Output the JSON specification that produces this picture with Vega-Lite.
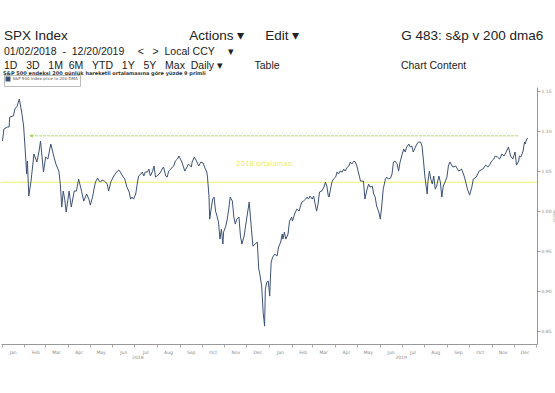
{
  "$schema": "https://vega.github.io/schema/vega-lite/v6.json",
  "background": "white",
  "padding": {"left": 0, "top": 29, "right": 0, "bottom": 0},
  "title": {
    "text": "SPX Index\u2003\u2003\u2003\u2003\u2003\u2003\u2003\u2003\u2003Actions ▾\u2003\u00a0\u00a0Edit ▾\u2003\u2003\u2003\u2003\u2003\u2003\u2003\u00a0\u00a0G 483: s&p v 200 dma6",
    "subtitle": [
      "01/02/2018\u00a0\u00a0-\u00a0\u00a012/20/2019\u2003\u00a0<\u00a0\u00a0\u00a0>\u00a0\u00a0Local CCY\u2003\u00a0▾",
      "\u00a0\u00a01D\u00a0\u00a0\u00a03D\u00a0\u00a0\u00a01M\u00a0\u00a06M\u00a0\u00a0\u00a0YTD\u00a0\u00a0\u00a01Y\u00a0\u00a0\u00a05Y\u00a0\u00a0\u00a0Max\u00a0\u00a0Daily ▾\u2003\u2003\u2003Table\u2003\u2003\u2003\u2003\u2003\u2003\u2003\u2003\u2003\u2003\u2003\u00a0\u00a0Chart Content"
    ],
    "anchor": "start",
    "frame": "group",
    "dx": 3,
    "font": "Liberation Sans",
    "fontSize": 13.5,
    "fontWeight": "normal",
    "color": "#222222",
    "subtitleFont": "Liberation Sans",
    "subtitleFontSize": 10.5,
    "subtitleColor": "#222222",
    "subtitlePadding": 4,
    "subtitleLineHeight": 14,
    "offset": 0
  },
  "datasets": {
    "spx": [
      {"d":"2018-01-02","v":1.0875},{"d":"2018-01-04","v":1.1025},{"d":"2018-01-09","v":1.105},{"d":"2018-01-11","v":1.105},{"d":"2018-01-12","v":1.1175},{"d":"2018-01-17","v":1.119},{"d":"2018-01-19","v":1.1275},{"d":"2018-01-22","v":1.131},{"d":"2018-01-25","v":1.14},{"d":"2018-01-27","v":1.13},{"d":"2018-01-29","v":1.119},{"d":"2018-01-31","v":1.105},
      {"d":"2018-02-03","v":1.0625},{"d":"2018-02-04","v":1.0463},{"d":"2018-02-05","v":1.0625},{"d":"2018-02-07","v":1.0188},{"d":"2018-02-10","v":1.0375},{"d":"2018-02-14","v":1.0713},{"d":"2018-02-18","v":1.0613},{"d":"2018-02-21","v":1.075},{"d":"2018-02-23","v":1.0875},{"d":"2018-02-27","v":1.0488},
      {"d":"2018-03-02","v":1.0675},{"d":"2018-03-05","v":1.065},{"d":"2018-03-09","v":1.0838},{"d":"2018-03-13","v":1.0688},{"d":"2018-03-16","v":1.0588},{"d":"2018-03-20","v":1.05},{"d":"2018-03-22","v":1.0338},{"d":"2018-03-24","v":1.005},{"d":"2018-03-26","v":1.025},{"d":"2018-03-28","v":1.015},{"d":"2018-03-30","v":0.9988},
      {"d":"2018-04-03","v":1.025},{"d":"2018-04-06","v":1.005},{"d":"2018-04-10","v":1.025},{"d":"2018-04-13","v":1.025},{"d":"2018-04-16","v":1.04},{"d":"2018-04-20","v":1.025},{"d":"2018-04-23","v":1.0125},{"d":"2018-04-27","v":1.0213},{"d":"2018-04-30","v":1.015},
      {"d":"2018-05-02","v":1.0075},{"d":"2018-05-05","v":1.0175},{"d":"2018-05-07","v":1.0275},{"d":"2018-05-09","v":1.0363},{"d":"2018-05-12","v":1.0413},{"d":"2018-05-14","v":1.0375},{"d":"2018-05-16","v":1.0363},{"d":"2018-05-18","v":1.0388},{"d":"2018-05-21","v":1.0375},{"d":"2018-05-23","v":1.0363},{"d":"2018-05-25","v":1.0338},{"d":"2018-05-27","v":1.025},{"d":"2018-05-30","v":1.0363},
      {"d":"2018-06-01","v":1.04},{"d":"2018-06-03","v":1.0438},{"d":"2018-06-08","v":1.05},{"d":"2018-06-10","v":1.0513},{"d":"2018-06-12","v":1.0488},{"d":"2018-06-15","v":1.0438},{"d":"2018-06-18","v":1.04},{"d":"2018-06-21","v":1.03},{"d":"2018-06-24","v":1.0238},{"d":"2018-06-26","v":1.015},{"d":"2018-06-28","v":1.0175},{"d":"2018-06-30","v":1.015},
      {"d":"2018-07-03","v":1.0213},{"d":"2018-07-05","v":1.0338},{"d":"2018-07-07","v":1.0438},{"d":"2018-07-10","v":1.0463},{"d":"2018-07-12","v":1.0488},{"d":"2018-07-14","v":1.0438},{"d":"2018-07-16","v":1.0488},{"d":"2018-07-19","v":1.0488},{"d":"2018-07-21","v":1.0525},{"d":"2018-07-23","v":1.0438},{"d":"2018-07-26","v":1.05},{"d":"2018-07-28","v":1.0563},{"d":"2018-07-30","v":1.0425},
      {"d":"2018-08-01","v":1.0438},{"d":"2018-08-04","v":1.0463},{"d":"2018-08-06","v":1.0488},{"d":"2018-08-08","v":1.0525},{"d":"2018-08-10","v":1.055},{"d":"2018-08-13","v":1.0438},{"d":"2018-08-15","v":1.0425},{"d":"2018-08-17","v":1.05},{"d":"2018-08-20","v":1.0525},{"d":"2018-08-22","v":1.055},{"d":"2018-08-24","v":1.0563},{"d":"2018-08-26","v":1.0625},{"d":"2018-08-29","v":1.065},{"d":"2018-08-31","v":1.0688},
      {"d":"2018-09-02","v":1.065},{"d":"2018-09-04","v":1.0613},{"d":"2018-09-08","v":1.05},{"d":"2018-09-11","v":1.055},{"d":"2018-09-13","v":1.0588},{"d":"2018-09-17","v":1.055},{"d":"2018-09-18","v":1.0613},{"d":"2018-09-21","v":1.0675},{"d":"2018-09-24","v":1.0625},{"d":"2018-09-27","v":1.0563},{"d":"2018-09-30","v":1.0613},
      {"d":"2018-10-03","v":1.06},{"d":"2018-10-05","v":1.055},{"d":"2018-10-08","v":1.0488},{"d":"2018-10-09","v":1.0425},{"d":"2018-10-11","v":1.0188},{"d":"2018-10-12","v":0.99},{"d":"2018-10-14","v":1.0025},{"d":"2018-10-16","v":1.015},{"d":"2018-10-18","v":1.0175},{"d":"2018-10-20","v":1.0},{"d":"2018-10-22","v":0.9938},{"d":"2018-10-24","v":0.9863},{"d":"2018-10-26","v":0.965},{"d":"2018-10-28","v":0.9775},{"d":"2018-10-30","v":0.9588},{"d":"2018-10-31","v":0.9738},
      {"d":"2018-11-03","v":0.9813},{"d":"2018-11-05","v":0.99},{"d":"2018-11-07","v":1.0025},{"d":"2018-11-09","v":1.0175},{"d":"2018-11-12","v":1.0125},{"d":"2018-11-14","v":0.9925},{"d":"2018-11-16","v":0.9838},{"d":"2018-11-18","v":0.99},{"d":"2018-11-21","v":0.9925},{"d":"2018-11-23","v":0.9688},{"d":"2018-11-25","v":0.9588},{"d":"2018-11-28","v":0.9688},{"d":"2018-11-30","v":0.9813},
      {"d":"2018-12-02","v":0.9938},{"d":"2018-12-05","v":1.0113},{"d":"2018-12-08","v":0.9775},{"d":"2018-12-10","v":0.9563},{"d":"2018-12-13","v":0.9588},{"d":"2018-12-16","v":0.9613},{"d":"2018-12-18","v":0.9275},{"d":"2018-12-19","v":0.9238},{"d":"2018-12-22","v":0.9063},{"d":"2018-12-24","v":0.8738},{"d":"2018-12-26","v":0.8563},{"d":"2018-12-27","v":0.9025},{"d":"2018-12-29","v":0.9113},{"d":"2018-12-31","v":0.9125},
      {"d":"2019-01-02","v":0.8938},{"d":"2019-01-03","v":0.9175},{"d":"2019-01-04","v":0.9363},{"d":"2019-01-06","v":0.9425},{"d":"2019-01-09","v":0.9463},{"d":"2019-01-12","v":0.9438},{"d":"2019-01-14","v":0.955},{"d":"2019-01-17","v":0.9613},{"d":"2019-01-19","v":0.9713},{"d":"2019-01-20","v":0.965},{"d":"2019-01-22","v":0.9738},{"d":"2019-01-24","v":0.965},{"d":"2019-01-27","v":0.9713},{"d":"2019-01-29","v":0.9875},
      {"d":"2019-02-01","v":0.9925},{"d":"2019-02-02","v":0.9875},{"d":"2019-02-05","v":0.9963},{"d":"2019-02-08","v":1.0025},{"d":"2019-02-11","v":1.0},{"d":"2019-02-13","v":1.0063},{"d":"2019-02-15","v":1.0113},{"d":"2019-02-17","v":1.0125},{"d":"2019-02-20","v":1.015},{"d":"2019-02-22","v":1.0175},{"d":"2019-02-24","v":1.015},{"d":"2019-02-26","v":1.0188},
      {"d":"2019-03-01","v":1.015},{"d":"2019-03-03","v":1.0188},{"d":"2019-03-05","v":1.0088},{"d":"2019-03-07","v":1.0},{"d":"2019-03-09","v":1.0088},{"d":"2019-03-11","v":1.0238},{"d":"2019-03-14","v":1.025},{"d":"2019-03-17","v":1.03},{"d":"2019-03-19","v":1.0363},{"d":"2019-03-21","v":1.0313},{"d":"2019-03-23","v":1.0188},{"d":"2019-03-24","v":1.0175},{"d":"2019-03-26","v":1.0275},{"d":"2019-03-28","v":1.0363},{"d":"2019-03-30","v":1.04},
      {"d":"2019-04-02","v":1.0425},{"d":"2019-04-04","v":1.0488},{"d":"2019-04-06","v":1.0463},{"d":"2019-04-08","v":1.05},{"d":"2019-04-11","v":1.0488},{"d":"2019-04-13","v":1.0525},{"d":"2019-04-15","v":1.05},{"d":"2019-04-18","v":1.055},{"d":"2019-04-20","v":1.0563},{"d":"2019-04-22","v":1.0613},{"d":"2019-04-24","v":1.0588},{"d":"2019-04-27","v":1.0625},{"d":"2019-04-29","v":1.0613},
      {"d":"2019-05-01","v":1.0563},{"d":"2019-05-03","v":1.0488},{"d":"2019-05-06","v":1.0375},{"d":"2019-05-08","v":1.0375},{"d":"2019-05-10","v":1.0375},{"d":"2019-05-12","v":1.015},{"d":"2019-05-15","v":1.0275},{"d":"2019-05-17","v":1.0338},{"d":"2019-05-19","v":1.03},{"d":"2019-05-22","v":1.0313},{"d":"2019-05-24","v":1.0213},{"d":"2019-05-26","v":1.0175},{"d":"2019-05-28","v":1.0063},{"d":"2019-05-31","v":0.9988},
      {"d":"2019-06-02","v":0.99},{"d":"2019-06-04","v":1.0063},{"d":"2019-06-06","v":1.0275},{"d":"2019-06-09","v":1.04},{"d":"2019-06-11","v":1.0425},{"d":"2019-06-13","v":1.04},{"d":"2019-06-16","v":1.0413},{"d":"2019-06-18","v":1.0463},{"d":"2019-06-20","v":1.0613},{"d":"2019-06-22","v":1.0625},{"d":"2019-06-25","v":1.0588},{"d":"2019-06-27","v":1.05},{"d":"2019-06-29","v":1.0613},
      {"d":"2019-07-02","v":1.0713},{"d":"2019-07-04","v":1.0775},{"d":"2019-07-06","v":1.0738},{"d":"2019-07-08","v":1.08},{"d":"2019-07-11","v":1.0838},{"d":"2019-07-13","v":1.08},{"d":"2019-07-15","v":1.0813},{"d":"2019-07-17","v":1.0738},{"d":"2019-07-20","v":1.08},{"d":"2019-07-22","v":1.0838},{"d":"2019-07-24","v":1.0863},{"d":"2019-07-27","v":1.0863},{"d":"2019-07-29","v":1.0813},{"d":"2019-07-31","v":1.0625},
      {"d":"2019-08-02","v":1.0425},{"d":"2019-08-05","v":1.0213},{"d":"2019-08-06","v":1.0363},{"d":"2019-08-08","v":1.05},{"d":"2019-08-10","v":1.04},{"d":"2019-08-12","v":1.0338},{"d":"2019-08-14","v":1.0438},{"d":"2019-08-16","v":1.0275},{"d":"2019-08-18","v":1.0313},{"d":"2019-08-21","v":1.0438},{"d":"2019-08-23","v":1.0363},{"d":"2019-08-25","v":1.0175},{"d":"2019-08-27","v":1.0313},{"d":"2019-08-30","v":1.0375},
      {"d":"2019-09-01","v":1.0425},{"d":"2019-09-03","v":1.0563},{"d":"2019-09-05","v":1.0613},{"d":"2019-09-09","v":1.055},{"d":"2019-09-13","v":1.0563},{"d":"2019-09-17","v":1.05},{"d":"2019-09-21","v":1.0525},{"d":"2019-09-25","v":1.0425},{"d":"2019-09-29","v":1.0275},
      {"d":"2019-10-02","v":1.02},{"d":"2019-10-05","v":1.03},{"d":"2019-10-07","v":1.04},{"d":"2019-10-11","v":1.0425},{"d":"2019-10-15","v":1.05},{"d":"2019-10-20","v":1.0525},{"d":"2019-10-24","v":1.0575},{"d":"2019-10-27","v":1.055},{"d":"2019-10-30","v":1.0588},
      {"d":"2019-11-01","v":1.0625},{"d":"2019-11-04","v":1.065},{"d":"2019-11-06","v":1.0688},{"d":"2019-11-09","v":1.0675},{"d":"2019-11-12","v":1.065},{"d":"2019-11-15","v":1.0713},{"d":"2019-11-18","v":1.0688},{"d":"2019-11-21","v":1.0738},{"d":"2019-11-24","v":1.08},{"d":"2019-11-27","v":1.0688},{"d":"2019-11-30","v":1.065},
      {"d":"2019-12-03","v":1.0738},{"d":"2019-12-05","v":1.0575},{"d":"2019-12-08","v":1.0625},{"d":"2019-12-09","v":1.0688},{"d":"2019-12-11","v":1.0675},{"d":"2019-12-14","v":1.075},{"d":"2019-12-15","v":1.0813},{"d":"2019-12-16","v":1.0863},{"d":"2019-12-17","v":1.0838},{"d":"2019-12-18","v":1.0875},{"d":"2019-12-20","v":1.0913}
    ],
    "avg": [{"label": "2018 ortalaması", "value": 1.036, "labelDate": "2018-12-26", "labelValue": 1.059}],
    "now": [{"start": "2018-02-10", "end": "2019-12-07", "value": 1.094}]
  },
  "vconcat": [
    {
      "title": {
        "text": "S&P 500 endeksi 200 günlük hareketli ortalamasına göre yüzde 9 primli",
        "anchor": "start",
        "frame": "group",
        "dx": 2,
        "font": "DejaVu Sans",
        "fontSize": 5,
        "fontWeight": "bold",
        "color": "#333333",
        "offset": 11
      },
      "width": 536,
      "height": 257,
      "layer": [
        {
          "data": {"name": "avg"},
          "mark": {"type": "rule", "color": "#f2f060", "strokeWidth": 1.2},
          "encoding": {"y": {"field": "value", "type": "quantitative", "title": "Ratio"}}
        },
        {
          "data": {"name": "avg"},
          "mark": {"type": "text", "color": "#eeea5c", "font": "DejaVu Sans", "fontSize": 7},
          "encoding": {
            "x": {"field": "labelDate", "type": "temporal", "title": "2018\u2003\u2003\u2003\u2003\u2003\u2003\u2003\u2003\u2003\u2003\u2003\u2003\u2003\u2003\u2003\u2003\u2003\u2003\u2003\u2003\u2003\u2003\u2003\u2003\u2003\u2003\u2003\u2003\u2003\u2003\u2003\u2003\u2003\u2003\u2003\u2003\u2003\u2003\u2003\u2003\u2003\u2003\u2003\u2003\u2003\u2003\u2003\u2003\u2003\u2003\u2003\u2003\u2003\u2003\u2003\u20032019"},
            "y": {"field": "labelValue", "type": "quantitative", "title": "Ratio"},
            "text": {"field": "label"}
          }
        },
        {
          "data": {"name": "now"},
          "mark": {"type": "rule", "color": "#b5d964", "strokeWidth": 1, "strokeDash": [3, 1]},
          "encoding": {
            "x": {"field": "start", "type": "temporal", "title": "2018\u2003\u2003\u2003\u2003\u2003\u2003\u2003\u2003\u2003\u2003\u2003\u2003\u2003\u2003\u2003\u2003\u2003\u2003\u2003\u2003\u2003\u2003\u2003\u2003\u2003\u2003\u2003\u2003\u2003\u2003\u2003\u2003\u2003\u2003\u2003\u2003\u2003\u2003\u2003\u2003\u2003\u2003\u2003\u2003\u2003\u2003\u2003\u2003\u2003\u2003\u2003\u2003\u2003\u2003\u2003\u20032019"},
            "x2": {"field": "end"},
            "y": {"field": "value", "type": "quantitative", "title": "Ratio"}
          }
        },
        {
          "data": {"name": "now"},
          "mark": {"type": "point", "shape": "triangle-left", "filled": true, "color": "#a8d050", "size": 14, "opacity": 1},
          "encoding": {
            "x": {"field": "start", "type": "temporal", "title": "2018\u2003\u2003\u2003\u2003\u2003\u2003\u2003\u2003\u2003\u2003\u2003\u2003\u2003\u2003\u2003\u2003\u2003\u2003\u2003\u2003\u2003\u2003\u2003\u2003\u2003\u2003\u2003\u2003\u2003\u2003\u2003\u2003\u2003\u2003\u2003\u2003\u2003\u2003\u2003\u2003\u2003\u2003\u2003\u2003\u2003\u2003\u2003\u2003\u2003\u2003\u2003\u2003\u2003\u2003\u2003\u20032019"},
            "y": {"field": "value", "type": "quantitative", "title": "Ratio"}
          }
        },
        {
          "data": {"name": "spx"},
          "mark": {"type": "line", "strokeWidth": 1, "color": "#3d5276"},
          "encoding": {
            "x": {
              "field": "d",
              "type": "temporal",
              "title": "2018\u2003\u2003\u2003\u2003\u2003\u2003\u2003\u2003\u2003\u2003\u2003\u2003\u2003\u2003\u2003\u2003\u2003\u2003\u2003\u2003\u2003\u2003\u2003\u2003\u2003\u2003\u2003\u2003\u2003\u2003\u2003\u2003\u2003\u2003\u2003\u2003\u2003\u2003\u2003\u2003\u2003\u2003\u2003\u2003\u2003\u2003\u2003\u2003\u2003\u2003\u2003\u2003\u2003\u2003\u2003\u20032019",
              "scale": {"type": "utc", "domain": ["2017-12-31", "2020-01-02"], "nice": false},
              "axis": {
                "orient": "bottom",
                "titleFontSize": 4.5,
                "titleFont": "DejaVu Sans",
                "titleFontWeight": "normal",
                "titleColor": "#888888",
                "titlePadding": 1,
                "grid": false,
                "tickCount": {"interval": "month", "step": 1},
                "labelExpr": "utcyear(datum.value) >= 2020 ? '' : utcFormat(datum.value, '%b')",
                "labelAlign": "center",
                "labelOffset": 11,
                "labelFontSize": 4.5,
                "labelColor": "#888888",
                "labelFont": "DejaVu Sans",
                "labelPadding": 2,
                "tickSize": 3,
                "tickColor": "#aaaaaa",
                "domainColor": "#999999",
                "labelOverlap": false
              }
            },
            "y": {
              "field": "v",
              "type": "quantitative",
              "title": "Ratio",
              "scale": {"domain": [0.834, 1.155], "zero": false, "nice": false},
              "axis": {
                "orient": "right",
                "titleFontSize": 4.5,
                "titleFont": "DejaVu Sans",
                "titleFontWeight": "normal",
                "titleColor": "#999999",
                "titlePadding": 0,
                "grid": false,
                "values": [0.85, 0.875, 0.9, 0.925, 0.95, 0.975, 1.0, 1.025, 1.05, 1.075, 1.1, 1.125, 1.15],
                "labelExpr": "round(datum.value * 100) % 5 == 0 ? format(datum.value, '.2f') : ''",
                "tickSize": 3,
                "labelFontSize": 4.5,
                "labelFont": "DejaVu Sans",
                "labelColor": "#888888",
                "labelPadding": 1,
                "tickColor": "#999999",
                "domainColor": "#999999"
              }
            },
            "color": {
              "datum": "S&P 500 Index price to 200 DMA",
              "type": "nominal",
              "scale": {"range": ["#3d5276"]},
              "legend": {
                "orient": "none",
                "legendX": 3,
                "legendY": -12,
                "title": null,
                "strokeColor": "#bbbbbb",
                "padding": 1.5,
                "labelFontSize": 4,
                "labelFont": "DejaVu Sans",
                "labelColor": "#555555",
                "symbolType": "square",
                "symbolSize": 12,
                "symbolFillColor": "#3d5276",
                "symbolStrokeColor": "#3d5276",
                "labelOffset": 2
              }
            }
          }
        }
      ]
    }
  ],
  "config": {"view": {"stroke": null}, "concat": {"spacing": 0}}
}
